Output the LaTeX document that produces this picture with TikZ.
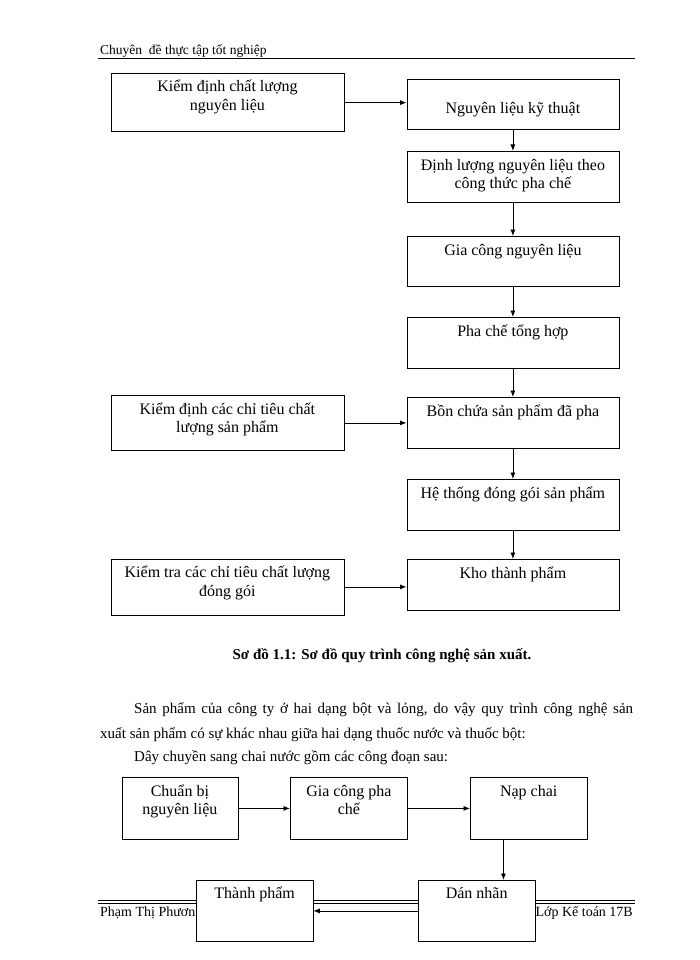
\documentclass[tikz,border=0pt]{standalone}
\usepackage{fontspec}
\setmainfont{Liberation Serif}
\usetikzlibrary{arrows.meta,calc}
\tikzset{
  box/.style={draw, line width=0.8pt, fill=white, anchor=north west, inner sep=0pt},
  btxt/.style={anchor=north, align=center, inner sep=0pt, font=\fontsize{16}{18.5}\selectfont},
  arr/.style={-{Latex[length=6.5pt,width=5pt]}, line width=0.8pt},
}
\newcommand{\fs}{\rule{0pt}{16pt}}
\begin{document}
\begin{tikzpicture}[x=1pt,y=1pt]
\useasboundingbox (0,0) rectangle (700,-960);
\fill[white] (0,0) rectangle (700,-960);

% header
\node[anchor=base west, inner sep=0pt, font=\fontsize{13.5}{16}\selectfont] (hdr) at (100,-54.3) {Chuyên\ \ đề thực tập tốt nghiệp};
\draw[line width=1.5pt] (98,-58.5) -- (635,-58.5);

% ---------- diagram 1 ----------
\node[box, minimum width=233pt, minimum height=58.5pt] (k1) at (110.5,-73) {};
\node[btxt] (k1t) at ($(k1.north)+(0,-2.7)$) {\fs Kiểm\ định chất lượng\\nguyên liệu};

\node[box, minimum width=212pt, minimum height=50pt] (n1) at (406.5,-79) {};
\node[btxt] (n1t) at ($(n1.north)+(0,-18)$) {\fs Nguyên liệu kỹ thuật};

\node[box, minimum width=212pt, minimum height=51pt] (dl) at (406.5,-151) {};
\node[btxt] (dlt) at ($(dl.north)+(0,-3)$) {\fs Định lượng nguyên liệu theo\\công thức pha chế};

\node[box, minimum width=212pt, minimum height=50pt] (gc) at (406.5,-236) {};
\node[btxt] (gct) at ($(gc.north)+(0,-3)$) {\fs Gia công nguyên liệu};

\node[box, minimum width=212pt, minimum height=50.5pt] (pc) at (406.5,-317) {};
\node[btxt] (pct) at ($(pc.north)+(0,-3)$) {\fs Pha chế tổng hợp};

\node[box, minimum width=212pt, minimum height=51pt] (bc) at (406.5,-397) {};
\node[btxt] (bct) at ($(bc.north)+(0,-3)$) {\fs Bồn chứa sản phẩm đã pha};

\node[box, minimum width=233pt, minimum height=55pt] (kd) at (110.5,-395) {};
\node[btxt] (kdt) at ($(kd.north)+(0,-3)$) {\fs Kiểm\ định các chỉ tiêu\ chất\\lượng sản phẩm};

\node[box, minimum width=212pt, minimum height=50.5pt] (ht) at (406.5,-479) {};
\node[btxt] (htt) at ($(ht.north)+(0,-3)$) {\fs Hệ thống đóng gói sản phẩm};

\node[box, minimum width=233pt, minimum height=56pt] (kt) at (110.5,-558.5) {};
\node[btxt] (ktt) at ($(kt.north)+(0,-3)$) {\fs Kiểm tra các chỉ tiêu\ chất lượng\\đóng gói};

\node[box, minimum width=212pt, minimum height=51pt] (kho) at (406.5,-559) {};
\node[btxt] (khot) at ($(kho.north)+(0,-3)$) {\fs Kho thành phẩm};

\draw[arr] (k1.east) -- (k1.east -| n1.west);
\draw[arr] (n1.south) -- (dl.north);
\draw[arr] (dl.south) -- (gc.north);
\draw[arr] (gc.south) -- (pc.north);
\draw[arr] (pc.south) -- (bc.north);
\draw[arr] (kd.east) -- (kd.east -| bc.west);
\draw[arr] (bc.south) -- (ht.north);
\draw[arr] (ht.south) -- (kho.north);
\draw[arr] (kt.east) -- (kt.east -| kho.west);

% caption
\node[anchor=base, inner sep=0pt, font=\bfseries\fontsize{15}{18}\selectfont] (cap) at (382,-659.3) {Sơ đồ 1.1: Sơ đồ quy trình công nghệ sản xuất.};

% paragraph
\node[anchor=base west, inner sep=0pt, font=\fontsize{15}{18}\selectfont] (p1) at (134,-713) {\makebox[499pt][s]{Sản phẩm\ của công ty ở hai\ dạng\ bột và\ lỏng,\ do vậy\ quy trình công nghệ\ sản}};
\node[anchor=base west, inner sep=0pt, font=\fontsize{15}{18}\selectfont] (p2) at (100,-738) {xuất\ sản phẩm\ có sự khác nhau\ giữa hai\ dạng thuốc nước và thuốc bột:};
\node[anchor=base west, inner sep=0pt, font=\fontsize{15}{18}\selectfont] (p3) at (134,-761) {Dây\ chuyền\ sang chai nước gồm các công đoạn sau:};

% footer
\draw[line width=1.2pt] (98,-900.6) -- (635,-900.6);
\draw[line width=0.6pt] (98,-903.6) -- (635,-903.6);
\node[anchor=base west, inner sep=0pt, font=\fontsize{14}{16}\selectfont] (ft1) at (100,-916) {Phạm\ Thị\ Phương};
\node[anchor=base east, inner sep=0pt, font=\fontsize{14}{16}\selectfont] (ft2) at (633,-916) {Lớp Kế toán 17B};

% ---------- diagram 2 ----------
\node[box, minimum width=116pt, minimum height=62pt] (cb) at (121.5,-777) {};
\node[btxt] (cbt) at ($(cb.north)+(0,-3)$) {\fs Chuẩn bị\\nguyên liệu};

\node[box, minimum width=117pt, minimum height=62pt] (gp) at (290,-777) {};
\node[btxt] (gpt) at ($(gp.north)+(0,-3)$) {\fs Gia công pha\\chế};

\node[box, minimum width=116.5pt, minimum height=62pt] (np) at (470,-777) {};
\node[btxt] (npt) at ($(np.north)+(0,-3)$) {\fs Nạp chai};

\node[box, minimum width=116.5pt, minimum height=61pt] (dn) at (418,-880) {};
\node[btxt] (dnt) at ($(dn.north)+(0,-2)$) {\fs Dán nhãn};

\node[box, minimum width=116.5pt, minimum height=61pt] (tp) at (196,-880) {};
\node[btxt] (tpt) at ($(tp.north)+(0,-2)$) {\fs Thành phẩm};

\coordinate (npd) at ($(np.south west)!0.285!(np.south east)$);
\draw[arr] (cb.east) -- (gp.west);
\draw[arr] (gp.east) -- (np.west);
\draw[arr] (npd) -- (npd |- dn.north);
\draw[arr] (dn.west) -- (tp.east);
\end{tikzpicture}
\end{document}
